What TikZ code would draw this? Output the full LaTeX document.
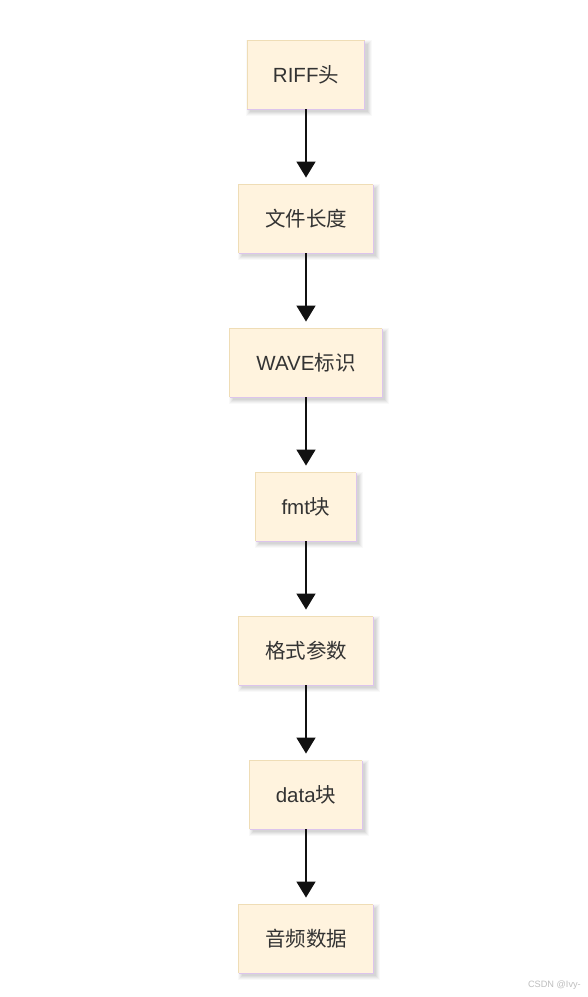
\documentclass[tikz,border=0pt]{standalone}
\usepackage{fontspec}
\setmainfont{Liberation Sans}
\newfontfamily\cjk{Noto Sans CJK SC}
\usetikzlibrary{arrows.meta,backgrounds}
\definecolor{boxfill}{HTML}{FFF3DE}
\definecolor{tanline}{HTML}{EFDDB6}
\definecolor{lavline}{HTML}{DCC4EC}
\definecolor{txt}{HTML}{333333}
\definecolor{arr}{HTML}{111111}
\definecolor{wm}{HTML}{BEBEBE}
\tikzset{
  stagebox/.style={fill=boxfill, minimum height=68.5pt, inner sep=0pt,
    text=txt, font=\fontsize{20.5pt}{24pt}\selectfont},
  flowarrow/.style={draw=arr, line width=1.5pt, -{Triangle[width=19pt,length=16pt]}, shorten >=7pt},
  tanedge/.style={draw=tanline, line width=1.2pt},
  lavedge/.style={draw=lavline, line width=1.2pt}
}
\begin{document}
\begin{tikzpicture}[x=1pt,y=-1pt]
\useasboundingbox (0,0) rectangle (587,997);
\node[stagebox, minimum width=117pt] (n1) at (306,75) {RIFF{\cjk 头}};
\node[stagebox, minimum width=134pt] (n2) at (306,219) {\cjk 文件长度};
\node[stagebox, minimum width=152pt] (n3) at (306,363) {WAVE{\cjk 标识}};
\node[stagebox, minimum width=100pt] (n4) at (306,507) {fmt{\cjk 块}};
\node[stagebox, minimum width=134pt] (n5) at (306,651) {\cjk 格式参数};
\node[stagebox, minimum width=112pt] (n6) at (306,795) {data{\cjk 块}};
\node[stagebox, minimum width=134pt] (n7) at (306,939) {\cjk 音频数据};
\begin{pgfonlayer}{background}
\fill[white] (0,0) rectangle (587,997);
\foreach \n in {n1,n2,n3,n4,n5,n6,n7}{
  \foreach \e/\o in {4/0.025,3/0.03,2/0.035,1/0.04,0/0.04}{
    \fill[black, opacity=\o] ([shift={(3-\e,3-\e)}]\n.north west) rectangle ([shift={(3+\e,3+\e)}]\n.south east);
  }
}
\end{pgfonlayer}
\foreach \n in {n1,n2,n3,n4,n5,n6,n7}{
  \draw[tanedge] (\n.south west) -- (\n.north west) -- (\n.north east);
  \draw[lavedge] (\n.north east) -- (\n.south east) -- (\n.south west);
}
\draw[flowarrow] (n1) -- (n2);
\draw[flowarrow] (n2) -- (n3);
\draw[flowarrow] (n3) -- (n4);
\draw[flowarrow] (n4) -- (n5);
\draw[flowarrow] (n5) -- (n6);
\draw[flowarrow] (n6) -- (n7);
\node[text=wm, font=\fontsize{9.2pt}{10pt}\selectfont, anchor=east, inner sep=0pt] (wmk) at (581,985.5) {CSDN @Ivy-};
\end{tikzpicture}
\end{document}
